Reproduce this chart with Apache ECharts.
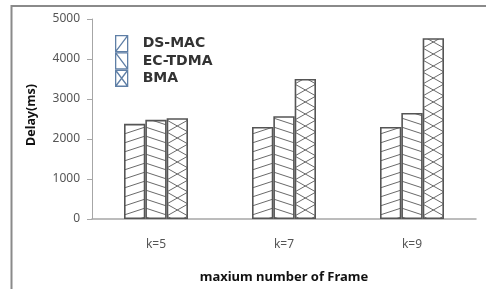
<!DOCTYPE html>
<html><head><meta charset="utf-8">
<script src="https://cdn.jsdelivr.net/npm/echarts@6/dist/echarts.min.js"></script>
<style>html,body{margin:0;padding:0;background:#fff}#c{width:486px;height:289px}</style>
</head><body><div id="c"></div>
<script>
var categories = ['k=5', 'k=7', 'k=9'];
var seriesNames = ['DS-MAC', 'EC-TDMA', 'BMA'];
var dsMac = [2380, 2300, 2300];
var ecTdma = [2480, 2570, 2650];
var bma = [2520, 3500, 4520];
var yTicks = [0, 1000, 2000, 3000, 4000, 5000];

function makeTile(h, draw) {
  var cv = document.createElement('canvas');
  cv.width = 64; cv.height = h;
  var ctx = cv.getContext('2d');
  ctx.fillStyle = '#fff'; ctx.fillRect(0, 0, 64, h);
  ctx.strokeStyle = '#6a6a6a'; ctx.lineWidth = 1;
  var cw = 64 / 3;
  for (var j = -1; j <= 4; j++) {
    var c = -4 + j * cw;
    ctx.save();
    ctx.beginPath(); ctx.rect(c, 0, cw, h); ctx.clip();
    draw(ctx, c, cw, h);
    ctx.restore();
  }
  return cv;
}
var tDS = makeTile(9, function (ctx, c, cw, h) {
  for (var k = -1; k <= 1; k++) {
    var y = k * h;
    ctx.beginPath(); ctx.moveTo(c, y + 8); ctx.lineTo(c + cw, y + 1); ctx.stroke();
  }
});
var tEC = makeTile(9, function (ctx, c, cw, h) {
  for (var k = -1; k <= 1; k++) {
    var y = k * h;
    ctx.beginPath(); ctx.moveTo(c, y + 1); ctx.lineTo(c + cw, y + 8); ctx.stroke();
  }
});
var tBMA = makeTile(12, function (ctx, c, cw, h) {
  ctx.beginPath(); ctx.moveTo(c, 0); ctx.lineTo(c + cw, h); ctx.stroke();
  ctx.beginPath(); ctx.moveTo(c, h); ctx.lineTo(c + cw, 0); ctx.stroke();
});

var chart = echarts.init(document.getElementById('c'), null, {renderer: 'canvas'});
var font = 'Noto Sans';
function barSeries(name, data, tile) {
  return {
    name: name, type: 'bar', data: data,
    barWidth: 64 / 3, barGap: '0%',
    itemStyle: {color: {image: tile, repeat: 'repeat'}, borderColor: '#555', borderWidth: 1.6},
    emphasis: {disabled: true}
  };
}
var iconRect = 'M0,0H12V16H0Z';
var legendStyle = {color: '#fff', borderColor: '#5f7fa6', borderWidth: 1.3};
chart.setOption({
  animation: false,
  textStyle: {fontFamily: font},
  grid: {left: 92, right: 10, top: 19, bottom: 67},
  graphic: [{type: 'rect', shape: {x: 11.5, y: 6, width: 520, height: 320},
    style: {fill: 'none', stroke: '#8a8a8a', lineWidth: 2}, silent: true}],
  legend: {
    orient: 'vertical', left: 115, top: 35, itemWidth: 12, itemHeight: 16, itemGap: 0, padding: 0,
    textStyle: {fontFamily: 'DejaVu Sans', fontWeight: 'bold', fontSize: 14, color: '#333', lineHeight: 16, padding: [0, 0, 0, 10]},
    data: [
      {name: seriesNames[0], icon: 'path://' + iconRect + ' M0,16L12,0', itemStyle: legendStyle},
      {name: seriesNames[1], icon: 'path://' + iconRect + ' M0,0L12,16', itemStyle: legendStyle},
      {name: seriesNames[2], icon: 'path://' + iconRect + ' M0,0L12,16 M0,16L12,0', itemStyle: legendStyle}
    ]
  },
  xAxis: {
    type: 'category', data: categories,
    name: 'maxium number of Frame', nameLocation: 'middle', nameGap: 52,
    nameTextStyle: {fontFamily: font, fontWeight: 'bold', fontSize: 13, color: '#111'},
    axisLine: {lineStyle: {color: '#a6a6a6', width: 1.5}},
    axisTick: {show: false},
    axisLabel: {margin: 20, fontSize: 12, color: '#555', fontFamily: font}
  },
  yAxis: {
    type: 'value', min: yTicks[0], max: yTicks[yTicks.length - 1], interval: 1000,
    name: 'Delay(ms)', nameLocation: 'middle', nameGap: 54,
    nameTextStyle: {fontFamily: font, fontWeight: 'bold', fontSize: 12.5, color: '#111', padding: [0, 0, 0, 8]},
    axisLine: {show: true, lineStyle: {color: '#a6a6a6', width: 1}},
    axisTick: {show: true, length: 5, lineStyle: {color: '#a6a6a6'}},
    splitLine: {show: false},
    axisLabel: {margin: 12, fontSize: 12, color: '#555', fontFamily: font, formatter: function (v) { return String(v); }}
  },
  series: [barSeries(seriesNames[0], dsMac, tDS), barSeries(seriesNames[1], ecTdma, tEC), barSeries(seriesNames[2], bma, tBMA)]
});
</script></body></html>
